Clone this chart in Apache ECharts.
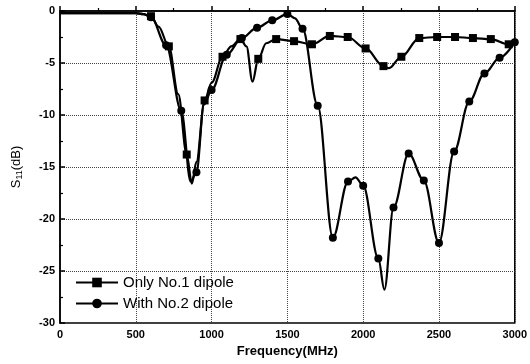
<!DOCTYPE html>
<html>
<head>
<meta charset="utf-8">
<script src="https://cdn.jsdelivr.net/npm/echarts@6/dist/echarts.min.js"></script>
<style>
  html, body { margin: 0; padding: 0; background: #fff; }
  #chart { width: 530px; height: 364px; }
</style>
</head>
<body>
<div id="chart"></div>
<script>
// Only No.1 dipole (squares)
const freqA = [0, 100, 200, 300, 400, 500, 550, 600, 650, 718, 780, 836, 870, 900, 954, 1000, 1072, 1130, 1190, 1230, 1270, 1308, 1360, 1426, 1544, 1662, 1780, 1898, 2016, 2134, 2170, 2252, 2370, 2488, 2606, 2724, 2842, 2960, 3000]
const valA = [-0.2, -0.2, -0.2, -0.2, -0.2, -0.2, -0.3, -0.5, -1.5, -3.4, -8.0, -13.8, -16.6, -14.5, -8.6, -6.9, -4.4, -3.4, -2.7, -3.4, -6.8, -4.6, -3.1, -2.7, -2.9, -3.2, -2.4, -2.5, -3.6, -5.3, -5.5, -4.4, -2.6, -2.5, -2.5, -2.6, -2.7, -3.2, -3.3]
const markA = [600, 718, 836, 954, 1072, 1190, 1308, 1426, 1544, 1662, 1780, 1898, 2016, 2134, 2252, 2370, 2488, 2606, 2724, 2842, 2960]

// With No.2 dipole (circles)
const freqB = [0, 100, 200, 300, 400, 500, 550, 600, 700, 800, 862, 900, 950, 1000, 1100, 1200, 1300, 1400, 1500, 1550, 1600, 1700, 1800, 1900, 1950, 2000, 2100, 2140, 2200, 2300, 2400, 2500, 2600, 2700, 2800, 2900, 3000]
const valB = [-0.2, -0.2, -0.2, -0.2, -0.2, -0.2, -0.3, -0.6, -3.3, -9.6, -16.4, -15.5, -9.0, -7.6, -4.2, -2.6, -1.6, -0.9, -0.3, -0.7, -1.7, -9.1, -21.8, -16.4, -16.0, -16.8, -23.8, -26.8, -18.9, -13.7, -16.3, -22.3, -13.5, -8.7, -6.0, -4.5, -3.0]
const markB = [600, 700, 800, 900, 1000, 1100, 1200, 1300, 1400, 1500, 1600, 1700, 1800, 1900, 2000, 2100, 2200, 2300, 2400, 2500, 2600, 2700, 2800, 2900, 3000]

const xTicks = [0, 500, 1000, 1500, 2000, 2500, 3000]
const yTicks = [0, -5, -10, -15, -20, -25, -30]

function buildData (freqs, vals, marks) {
  return freqs.map((f, i) => {
    const item = { value: [f, vals[i]] }
    if (marks.indexOf(f) < 0) item.symbol = 'none'
    return item
  })
}

const chart = echarts.init(document.getElementById('chart'))
const font = 'Arial, "Liberation Sans", sans-serif'

const option = {
  animation: false,
  backgroundColor: '#fff',
  grid: {
    left: 60,
    right: 14,
    top: 11,
    bottom: 41,
    show: true,
    borderColor: '#000',
    borderWidth: 1.5,
    backgroundColor: 'transparent'
  },
  legend: {
    orient: 'vertical',
    left: 70,
    top: 270,
    itemWidth: 42,
    itemHeight: 12,
    itemGap: 6,
    textStyle: { fontFamily: font, fontSize: 15, color: '#000' },
    data: ['Only No.1 dipole', 'With No.2 dipole']
  },
  xAxis: {
    type: 'value',
    min: xTicks[0],
    max: xTicks[xTicks.length - 1],
    interval: 500,
    name: 'Frequency(MHz)',
    nameLocation: 'middle',
    nameGap: 22,
    nameTextStyle: { fontFamily: font, fontSize: 13, fontWeight: 'bold', color: '#000' },
    axisLine: { lineStyle: { color: '#000', width: 1.5 } },
    axisTick: { inside: true, length: 5, lineStyle: { color: '#000', width: 1.5 } },
    minorTick: { show: true, splitNumber: 2, length: 3, lineStyle: { color: '#000', width: 1.2 } },
    axisLabel: { fontFamily: font, fontSize: 11, fontWeight: 'bold', color: '#000', margin: 6, formatter: v => String(v) },
    splitLine: { show: true, lineStyle: { color: '#444', type: 'dotted', width: 1 } }
  },
  yAxis: {
    type: 'value',
    min: yTicks[yTicks.length - 1],
    max: yTicks[0],
    interval: 5,
    name: 'S{sub|11}(dB)',
    nameLocation: 'middle',
    nameGap: 36,
    nameTextStyle: {
      fontFamily: font, fontSize: 13, color: '#000',
      rich: { sub: { fontFamily: font, fontSize: 9, color: '#000', verticalAlign: 'bottom', padding: [6, 0, 0, 0] } }
    },
    axisLine: { lineStyle: { color: '#000', width: 1.5 } },
    axisTick: { inside: true, length: 5, lineStyle: { color: '#000', width: 1.5 } },
    minorTick: { show: true, splitNumber: 2, length: 3, lineStyle: { color: '#000', width: 1.2 } },
    axisLabel: { fontFamily: font, fontSize: 11, fontWeight: 'bold', color: '#000', margin: 5, formatter: v => String(v) },
    splitLine: { show: true, lineStyle: { color: '#444', type: 'dotted', width: 1 } }
  },
  series: [
    {
      name: 'Only No.1 dipole',
      type: 'line',
      smooth: 0.35,
      smoothMonotone: 'x',
      symbol: 'rect',
      symbolSize: 8,
      showAllSymbol: true,
      color: '#000',
      lineStyle: { color: '#000', width: 2.2 },
      itemStyle: { color: '#000' },
      data: buildData(freqA, valA, markA)
    },
    {
      name: 'With No.2 dipole',
      type: 'line',
      smooth: 0.35,
      smoothMonotone: 'x',
      symbol: 'circle',
      symbolSize: 8,
      showAllSymbol: true,
      color: '#000',
      lineStyle: { color: '#000', width: 2.2 },
      itemStyle: { color: '#000' },
      data: buildData(freqB, valB, markB)
    }
  ]
}

chart.setOption(option)
</script>
</body>
</html>
